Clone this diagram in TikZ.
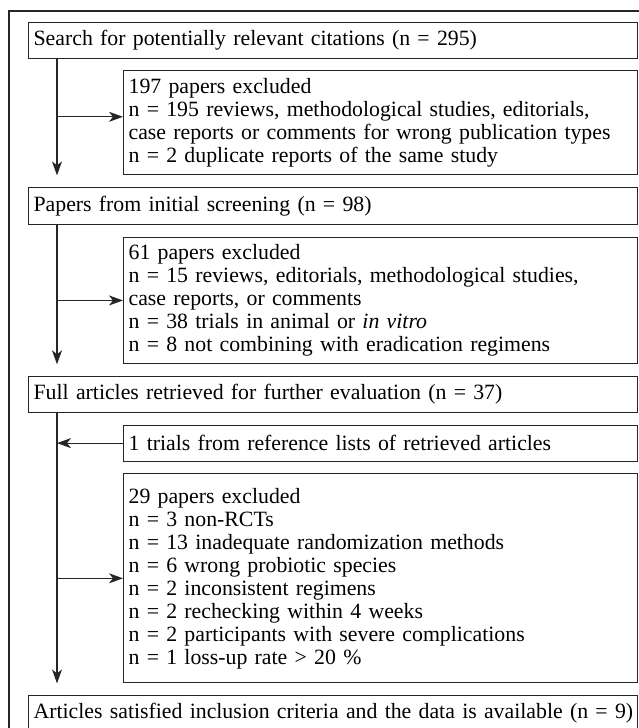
\documentclass[tikz,border=0pt]{standalone}
\usepackage{fontspec}
\setmainfont{Liberation Serif}
\usepackage{tikz}
\usetikzlibrary{positioning,arrows.meta}

\begin{document}
\begin{tikzpicture}[
  >={Stealth[length=14pt,width=10pt,inset=4pt]},
  x=1pt,y=1pt,
  line width=1.2pt,
  every node/.style={font=\fontsize{21.8}{23}\selectfont},
  mainbox/.style={draw=black!85,align=left,inner xsep=5pt,inner ysep=0pt,
                  text width=599pt,minimum height=36pt},
  dropbox/.style={draw=black!85,align=left,inner xsep=5pt,inner ysep=0pt,
                  text width=504pt},
  flow/.style={->,draw=black!85,shorten >=11.5pt}
]
\useasboundingbox (0,0) rectangle (639,-728);
\draw[black!85] (9,-728) -- (9,-11) -- (639,-11);
\node[mainbox,anchor=north west,minimum height=35.5pt] (search) at (28,-22)
  {Search for potentially relevant citations (n = 295)};
\node[dropbox,below=11.5pt of search.south east,anchor=north east,
      minimum height=104pt] (dropA) {197 papers excluded\\
n = 195 reviews, methodological studies, editorials,\\
case reports or comments for wrong publication types\\
n = 2 duplicate reports of the same study};
\node[mainbox,below=11.5pt of dropA.south east,anchor=north east,
      minimum height=37pt] (screen) {Papers from initial screening (n = 98)};
\node[dropbox,below=11.5pt of screen.south east,anchor=north east,
      minimum height=126.5pt] (dropB) {61 papers excluded\\
n = 15 reviews, editorials, methodological studies,\\
case reports, or comments\\
n = 38 trials in animal or \textit{in vitro}\\
n = 8 not combining with eradication regimens};
\node[mainbox,below=11.5pt of dropB.south east,anchor=north east] (full)
  {Full articles retrieved for further evaluation (n = 37)};
\node[dropbox,below=11.5pt of full.south east,anchor=north east,
      minimum height=36pt] (extra) {1 trials from reference lists of retrieved articles};
\node[dropbox,below=11.5pt of extra.south east,anchor=north east,
      minimum height=209pt] (dropC) {29 papers excluded\\
n = 3 non-RCTs\\
n = 13 inadequate randomization methods\\
n = 6 wrong probiotic species\\
n = 2 inconsistent regimens\\
n = 2 rechecking within 4 weeks\\
n = 2 participants with severe complications\\
n = 1 loss-up rate > 20 \%};
\node[mainbox,below=11.5pt of dropC.south east,anchor=north east] (final)
  {\mbox{Articles satisfied inclusion criteria and the data is available (n = 9)}};
% the trunk on the left
\coordinate (spine) at ([xshift=29pt]search.south west);
\coordinate (hookA) at ([yshift=6pt]dropA.west);
\draw[flow] (spine) -- (spine |- screen.north);
\draw[flow] (spine |- screen.south) -- (spine |- full.north);
\draw[flow] (spine |- full.south) -- (spine |- final.north);
\draw[->,black!85] (spine |- hookA) -- (hookA);
\draw[->,black!85] (spine |- dropB.west) -- (dropB.west);
\draw[->,black!85] (extra.west) -- (spine |- extra.west);
\draw[->,black!85] (spine |- dropC.west) -- (dropC.west);
\end{tikzpicture}
\end{document}
